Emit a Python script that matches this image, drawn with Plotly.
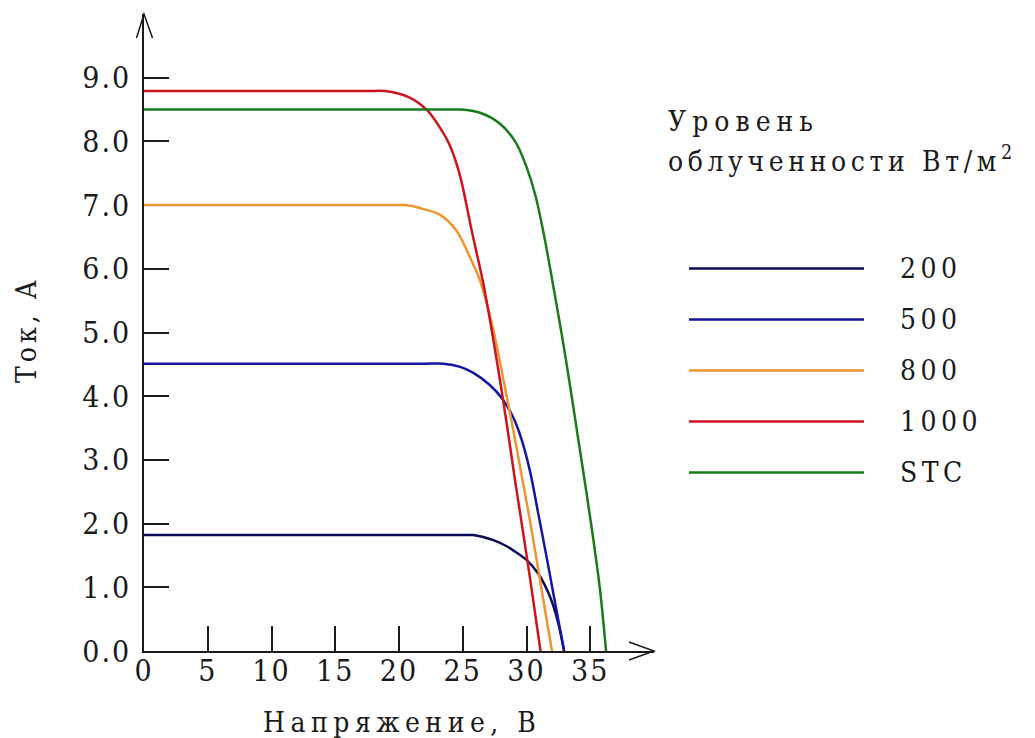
import plotly.graph_objects as go

# Irradiance levels (W/m^2) and their line colours
levels = ["200", "500", "800", "1000", "STC"]
colors = ["#0b0b55", "#1515a0", "#ee9530", "#cc1420", "#1b7a1b"]

# I-V curves: voltage (V) and current (A) for each irradiance level
v_200 = [0, 24.3, 25.8, 26.6, 27.4, 28.3, 28.96, 30.0, 30.9, 31.85, 32.5, 32.95]
i_200 = [1.82, 1.82, 1.82, 1.79, 1.74, 1.66, 1.58, 1.43, 1.22, 0.85, 0.43, 0.0]

v_500 = [0, 22.0, 23.5, 24.8, 25.8, 27.1, 28.1, 29.0, 29.6, 30.3, 30.9, 31.6, 32.2, 32.95]
i_500 = [4.51, 4.51, 4.51, 4.46, 4.37, 4.18, 3.96, 3.65, 3.33, 2.80, 2.18, 1.45, 0.80, 0.0]

v_800 = [0, 19.0, 20.5, 21.7, 23.2, 24.5, 25.8, 26.35, 27.4, 28.2, 28.96, 29.6, 30.4, 31.06, 32.0]
i_800 = [7.0, 7.0, 7.0, 6.95, 6.85, 6.60, 6.08, 5.82, 5.04, 4.25, 3.47, 2.78, 1.90, 1.11, 0.0]

v_1000 = [0, 17.4, 18.9, 20.8, 22.2, 23.2, 24.0, 24.8, 25.7, 26.56, 27.27, 27.92, 28.5, 29.1, 29.75, 30.33, 31.1]
i_1000 = [8.79, 8.79, 8.79, 8.69, 8.49, 8.22, 7.93, 7.45, 6.60, 5.82, 5.04, 4.25, 3.50, 2.68, 1.84, 1.07, 0.0]

v_stc = [0, 23.3, 24.8, 26.35, 27.9, 29.2, 30.0, 30.7, 31.45, 32.16, 32.84, 33.41, 34.07, 34.67, 35.25, 35.77, 36.24]
i_stc = [8.5, 8.5, 8.5, 8.45, 8.28, 7.97, 7.60, 7.15, 6.45, 5.66, 4.88, 4.17, 3.31, 2.53, 1.74, 0.96, 0.0]

voltages = [v_200, v_500, v_800, v_1000, v_stc]
currents = [i_200, i_500, i_800, i_1000, i_stc]

# Axis ticks
x_tick_vals = [0, 5, 10, 15, 20, 25, 30, 35]
x_tick_labels = ["0", "5", "10", "15", "20", "25", "30", "35"]
y_tick_vals = [0, 1, 2, 3, 4, 5, 6, 7, 8, 9]
y_tick_labels = ["0.0", "1.0", "2.0", "3.0", "4.0", "5.0", "6.0", "7.0", "8.0", "9.0"]

x_title = "Напряжение, В"
y_title = "Ток, А"
legend_title_1 = "Уровень"
legend_title_2 = "облученности Вт/м<sup>2</sup>"

# Page geometry (px)
W, H = 1035, 738
ML, MR, MT, MB = 144, 381, 14, 87
PW = W - ML - MR
PH = H - MT - MB

FONT = "DejaVu Serif Condensed, DejaVu Serif"
INK = "#1a1a1a"


def paper(px, py):
    """Convert page pixel coordinates into paper coordinates."""
    return (px - ML) / PW, (H - MB - py) / PH


def spaced(text, ls):
    return f'<span style="letter-spacing:{ls}px">{text}</span>'


fig = go.Figure()

for name, col, v, i in zip(levels, colors, voltages, currents):
    fig.add_trace(go.Scatter(
        x=v, y=i, mode="lines", name=name,
        line=dict(color=col, width=2.5, shape="spline", smoothing=0.8),
        showlegend=False, hoverinfo="x+y+name",
    ))

shapes = []
annotations = []

# Arrowheads at the ends of the axes
ax0, ay0 = paper(629, 642)
ax1, ay1 = paper(654, 651)
ax2, ay2 = paper(629, 660)
shapes.append(dict(type="path", xref="paper", yref="paper",
                   path=f"M{ax0},{ay0} L{ax1},{ay1} L{ax2},{ay2}",
                   line=dict(color=INK, width=1.5)))
bx0, by0 = paper(136.5, 38)
bx1, by1 = paper(144, 14)
bx2, by2 = paper(152.5, 38)
shapes.append(dict(type="path", xref="paper", yref="paper",
                   path=f"M{bx0},{by0} L{bx1},{by1} L{bx2},{by2}",
                   line=dict(color=INK, width=1.5)))

# Legend: swatch lines and labels
legend_y = [268.5, 319.5, 370.5, 421.5, 472.5]
for name, col, ly in zip(levels, colors, legend_y):
    x0, y0 = paper(689, ly)
    x1, _ = paper(864, ly)
    shapes.append(dict(type="line", xref="paper", yref="paper",
                       x0=x0, x1=x1, y0=y0, y1=y0,
                       line=dict(color=col, width=2.5)))
    tx, ty = paper(898, ly)
    annotations.append(dict(xref="paper", yref="paper", x=tx, y=ty,
                            xanchor="left", yanchor="middle", showarrow=False,
                            text=spaced(name, 4.5),
                            font=dict(family=FONT, size=28, color=INK)))

# Legend title
tx, ty = paper(666, 121)
annotations.append(dict(xref="paper", yref="paper", x=tx, y=ty,
                        xanchor="left", yanchor="middle", showarrow=False,
                        text=spaced(legend_title_1, 6),
                        font=dict(family=FONT, size=28, color=INK)))
tx, ty = paper(666, 160)
annotations.append(dict(xref="paper", yref="paper", x=tx, y=ty,
                        xanchor="left", yanchor="middle", showarrow=False,
                        text=spaced(legend_title_2, 4.6),
                        font=dict(family=FONT, size=28, color=INK)))

# Axis titles
tx, ty = paper(402, 722)
annotations.append(dict(xref="paper", yref="paper", x=tx, y=ty,
                        xanchor="center", yanchor="middle", showarrow=False,
                        text=spaced(x_title, 5.5),
                        font=dict(family=FONT, size=28, color=INK)))
tx, ty = paper(26, 330)
annotations.append(dict(xref="paper", yref="paper", x=tx, y=ty,
                        xanchor="center", yanchor="middle", showarrow=False,
                        textangle=-90,
                        text=spaced(y_title, 4),
                        font=dict(family=FONT, size=28, color=INK)))

fig.update_layout(
    width=W, height=H,
    margin=dict(l=ML, r=MR, t=MT, b=MB, pad=0),
    paper_bgcolor="white", plot_bgcolor="white",
    shapes=shapes, annotations=annotations,
    showlegend=False,
    xaxis=dict(range=[0, 40], showgrid=False, zeroline=False,
               showline=True, linecolor=INK, linewidth=1.5, layer="below traces",
               ticks="inside", ticklen=25, tickwidth=1.5, tickcolor=INK,
               tickvals=x_tick_vals,
               ticktext=[spaced(t, 2) for t in x_tick_labels],
               tickfont=dict(family=FONT, size=30, color=INK),
               ticklabelstandoff=-8, fixedrange=True),
    yaxis=dict(range=[0, 10], showgrid=False, zeroline=False,
               showline=True, linecolor=INK, linewidth=1.5, layer="below traces",
               ticks="inside", ticklen=25, tickwidth=1.5, tickcolor=INK,
               tickvals=y_tick_vals,
               ticktext=[spaced(t, 2) for t in y_tick_labels],
               tickfont=dict(family=FONT, size=30, color=INK),
               ticklabelstandoff=5, fixedrange=True),
)

fig.write_html("out.html", config={"displayModeBar": False})
